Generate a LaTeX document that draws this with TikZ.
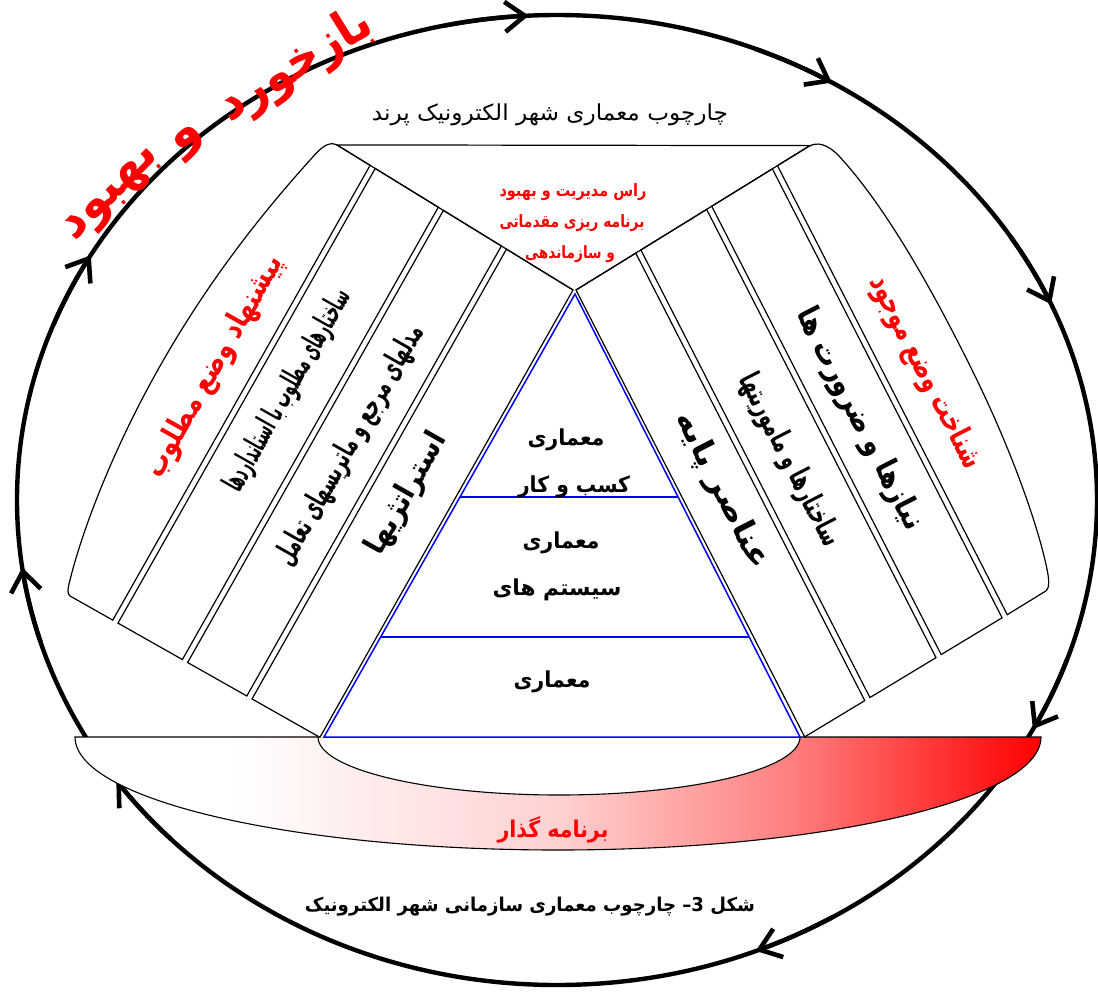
\documentclass[tikz,border=0pt]{standalone}
\usepackage{fontspec}
\usepackage{graphicx}
\usetikzlibrary{arrows.meta,calc}
\TeXXeTstate=1
\newfontfamily\arfont[Script=Arabic]{DejaVu Sans}
\newcommand\fa[1]{{\arfont\beginR #1\endR}}
\newcommand\fab[1]{{\arfont\bfseries\beginR #1\endR}}
\newcommand\fitw[2]{\resizebox{#1}{\height}{#2}}
\pgfdeclarehorizontalshading{bandsh}{100bp}{color(0bp)=(white); color(25bp)=(white); color(33bp)=(white); color(50bp)=(red!18); color(62bp)=(red!50); color(75bp)=(red); color(100bp)=(red)}
\tikzset{
  ring/.style={line width=4.4pt, line cap=round},
  strip/.style={draw=black, line width=1.2pt, line join=miter},
  pyr/.style={draw=blue, line width=1.5pt},
  txt/.style={inner sep=0pt, text=black},
  redtxt/.style={inner sep=0pt, text=red},
}
\begin{document}
\begin{tikzpicture}[x=1pt,y=1pt]
\useasboundingbox (0,0) rectangle (1098,-999);
% outer feedback ring
\coordinate (C) at (557,-500);
\draw[ring] (C) ellipse [x radius=540, y radius=485];
\foreach \ang in {149.7,93,59.4,23.8,-28.2,-68.4,-144.7,-172}{
  \draw[ring, -{Straight Barb[length=20pt,width=30pt,line width=4.6pt]}]
    ($(C)+({540*cos(\ang+9)},{485*sin(\ang+9)})$)
    arc[start angle=\ang+9, end angle=\ang, x radius=540, y radius=485];
}
% transition band
\shadedraw[shading=bandsh, line width=1.1pt] (75,-737) -- (318,-737)
  arc[start angle=180, end angle=360, x radius=241, y radius=58]
  -- (1041,-737) arc[start angle=0, end angle=-180, x radius=483, y radius=113] -- cycle;
% left fan
\begin{scope}[shift={(573,-290)}, rotate=150.5]
  \coordinate (LA) at (0,0);
  \coordinate (LT) at (277,-10);
  \draw[strip] (0,0) -- (78,-2.8) -- (78,514) -- (0,514) -- cycle;
  \draw[strip] (84,-3) -- (152,-5.5) -- (152,514) -- (84,514) -- cycle;
  \draw[strip] (158,-5.7) -- (232,-8.4) -- (232,514) -- (158,514) -- cycle;
  \draw[strip] (238,-8.6) -- (276,-10) .. controls (284,-10) and (288,-4) .. (291,8)
    .. controls (305,70) and (322,160) .. (322,270)
    .. controls (322,380) and (305,465) .. (295,500)
    .. controls (293,508) and (291,514) .. (287,514) -- (238,514) -- cycle;
  \node[redtxt, rotate=60.5] (l1) at (274,243) {\fontsize{31}{34}\selectfont\fitw{250pt}{\fab{پیشنهاد وضع مطلوب}}};
  \node[txt, rotate=60.5] (l2) at (198,228) {\fontsize{30}{34}\selectfont\fitw{228pt}{\fab{ساختارهای مطلوب با استانداردها}}};
  \node[txt, rotate=60.5] (l3) at (117,245) {\fontsize{30}{34}\selectfont\fitw{272pt}{\fab{مدلهای مرجع و ماتریسهای تعامل}}};
  \node[txt, rotate=60.5] (l4) at (44,259) {\fontsize{30}{34}\selectfont\fitw{135pt}{\fab{استراتژیها}}};
\end{scope}
% right fan
\begin{scope}[shift={(576,-290)}, rotate=27.1]
  \coordinate (RA) at (0,0);
  \coordinate (RT) at (274,22);
  \draw[strip] (0,0) -- (70,5.6) -- (70,-497.1) -- (0,-502) -- cycle;
  \draw[strip] (76,6.1) -- (153,12.2) -- (153,-491.3) -- (76,-496.7) -- cycle;
  \draw[strip] (159,12.7) -- (230,18.4) -- (230,-485.9) -- (159,-490.9) -- cycle;
  \draw[strip] (236,18.9) -- (272,21.8) .. controls (282,22.5) and (290,16) .. (295,0)
    .. controls (312,-60) and (318,-150) .. (316,-260)
    .. controls (314,-360) and (300,-440) .. (290,-470)
    .. controls (287,-478) and (285,-481) .. (281,-482) -- (236,-485.5) -- cycle;
  \node[redtxt, rotate=-62.9] (r1) at (273,-232) {\fontsize{31}{34}\selectfont\fitw{213pt}{\fab{شناخت وضع موجود}}};
  \node[txt, rotate=-62.9] (r2) at (193,-244) {\fontsize{31}{34}\selectfont\fitw{245pt}{\fab{نیازها و ضرورت ها}}};
  \node[txt, rotate=-62.9] (r3) at (112,-249) {\fontsize{30}{34}\selectfont\fitw{190pt}{\fab{ساختارها و ماموریتها}}};
  \node[txt, rotate=-62.9] (r4) at (38,-245) {\fontsize{31}{34}\selectfont\fitw{172pt}{\fab{عناصر پایه}}};
\end{scope}
% top triangle
\draw[strip] (LA) -- (LT) -- (RT) -- (RA);
% pyramid
\coordinate (PA) at (575,-294);
\coordinate (PL) at (324,-737);
\coordinate (PR) at (800,-737);
\draw[pyr] (PA) -- (PL) -- (PR) -- cycle;
\draw[pyr] ($(PA)!0.458!(PL)$) -- ($(PA)!0.458!(PR)$);
\draw[pyr] ($(PA)!0.774!(PL)$) -- ($(PA)!0.774!(PR)$);
\node[txt] (p1) at (566,-440) {\fontsize{22}{26}\selectfont\fitw{77pt}{\fab{معماری}}};
\node[txt] (p2) at (574,-487) {\fontsize{22}{26}\selectfont\fitw{112pt}{\fab{کسب و کار}}};
\node[txt] (p3) at (561,-543) {\fontsize{22}{26}\selectfont\fitw{77pt}{\fab{معماری}}};
\node[txt] (p4) at (557,-590) {\fontsize{22}{26}\selectfont\fitw{129pt}{\fab{سیستم های}}};
\node[txt] (p5) at (552,-682) {\fontsize{22}{26}\selectfont\fitw{77pt}{\fab{معماری}}};
% texts
\node[txt] (title) at (550,-115) {\fontsize{22}{26}\selectfont\fitw{356pt}{\fa{چارچوب معماری شهر الکترونیک پرند}}};
\node[redtxt] (h1) at (573,-192) {\fontsize{17}{20}\selectfont\fitw{147pt}{\fab{راس مدیریت و بهبود}}};
\node[redtxt] (h2) at (572,-223) {\fontsize{17}{20}\selectfont\fitw{145pt}{\fab{برنامه ریزی مقدماتی}}};
\node[redtxt] (h3) at (570,-254) {\fontsize{17}{20}\selectfont\fitw{90pt}{\fab{و سازماندهی}}};
\node[redtxt] (band) at (553,-830) {\fontsize{23}{26}\selectfont\fitw{111pt}{\fab{برنامه گذار}}};
\node[txt] (cap) at (530,-907) {\fontsize{19}{22}\selectfont\fitw{450pt}{\fab{شکل 3– چارچوب معماری سازمانی شهر الکترونیک}}};
\node[redtxt, rotate=32] (fb1) at (296,-66) {\fontsize{50}{54}\selectfont\fitw{172pt}{\fab{بازخورد}}};
\node[redtxt, rotate=40] (fb2) at (190,-142) {\fontsize{50}{54}\selectfont\fab{و}};
\node[redtxt, rotate=45] (fb3) at (114,-196) {\fontsize{50}{54}\selectfont\fitw{120pt}{\fab{بهبود}}};
\end{tikzpicture}
\end{document}
